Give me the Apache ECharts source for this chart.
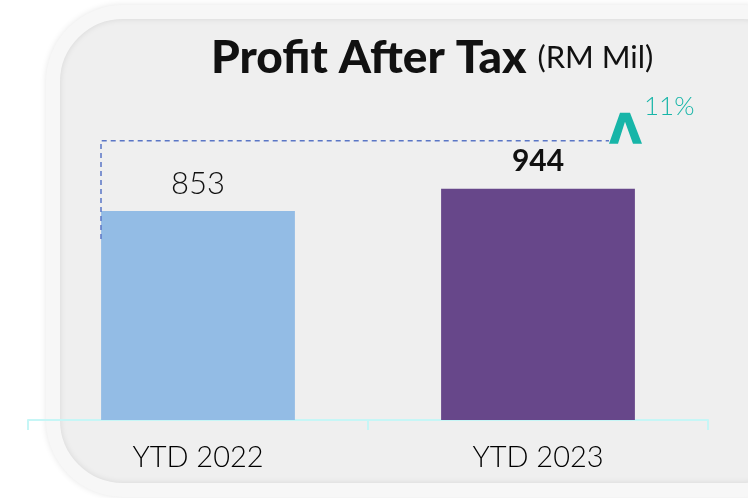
<!DOCTYPE html>
<html>
<head>
<meta charset="utf-8">
<script src="https://cdn.jsdelivr.net/npm/echarts@6/dist/echarts.min.js"></script>
<style>
  html, body { margin: 0; padding: 0; background: #ffffff; }
  #main { width: 748px; height: 498px; }
</style>
</head>
<body>
<div id="main"></div>
<script>
// data
var categories = ["YTD 2022", "YTD 2023"];
var profitValues = [853, 944];
var barColors = ["#93bce5", "#67478a"];
var growthLabel = "11%";

var myChart = echarts.init(document.getElementById("main"));

var barData = profitValues.map(function (v, i) {
  return {
    value: v,
    itemStyle: { color: barColors[i] },
    label: {
      fontWeight: i === 1 ? "bold" : 300,
      fontSize: i === 1 ? 30 : 31
    }
  };
});

var option = {
  backgroundColor: "#ffffff",
  animation: false,
  title: {
    text: "Profit After Tax {s|(RM Mil)}",
    left: 206,
    top: 30,
    textStyle: {
      fontFamily: "Lato",
      fontSize: 46,
      fontWeight: 900,
      color: "#111111",
      rich: {
        s: { fontFamily: "Lato", fontSize: 31, fontWeight: "normal", color: "#111111" }
      }
    }
  },
  grid: { left: 28, right: 40, top: 77, bottom: 78 },
  xAxis: {
    type: "category",
    data: categories,
    axisLine: { lineStyle: { color: "#c6f6f6", width: 2 } },
    axisTick: { show: true, length: 10, lineStyle: { color: "#c6f6f6", width: 2 } },
    axisLabel: { fontFamily: "Lato", fontSize: 29, fontWeight: 300, color: "#000000", margin: 23 }
  },
  yAxis: {
    type: "value",
    min: 0,
    max: 1400,
    show: false,
    splitLine: { show: false }
  },
  series: [
    {
      type: "bar",
      data: barData,
      barWidth: "57%",
      label: {
        show: true,
        position: "top",
        distance: 12,
        fontFamily: "Lato",
        color: "#111111"
      }
    }
  ]
};

myChart.setOption(option);

// decoration: rounded panel behind, dashed growth connector, arrow and % text
var p0 = myChart.convertToPixel({ seriesIndex: 0 }, [0, profitValues[0]]);
var p1 = myChart.convertToPixel({ seriesIndex: 0 }, [1, profitValues[1]]);
var barHalf = 97;
var lineY = p1[1] - 48;
var lineX0 = p0[0] - barHalf;
var arrowX = p1[0] + barHalf - 26;

myChart.setOption({
  graphic: [
    {
      type: "rect",
      z: -10,
      shape: { x: 53, y: 12, width: 760, height: 478, r: 70 },
      style: {
        fill: "#efefef",
        stroke: "#f7f7f7",
        lineWidth: 14,
        shadowBlur: 6,
        shadowColor: "rgba(0,0,0,0.10)"
      }
    },
    {
      type: "polyline",
      z: 10,
      shape: { points: [[lineX0, p0[1] + 28], [lineX0, lineY], [arrowX, lineY]] },
      style: { stroke: "#5a76c6", lineWidth: 1.5, lineDash: [5, 4], fill: null }
    },
    {
      type: "polygon",
      z: 10,
      shape: {
        points: [
          [arrowX, lineY + 3], [arrowX + 11, lineY - 28], [arrowX + 21, lineY - 28],
          [arrowX + 33, lineY + 3], [arrowX + 24, lineY + 3], [arrowX + 16, lineY - 19],
          [arrowX + 9, lineY + 3]
        ]
      },
      style: { fill: "#17b5a8" }
    },
    {
      type: "text",
      z: 10,
      x: arrowX + 35,
      y: lineY - 47,
      style: {
        text: growthLabel,
        fontFamily: "Lato",
        fontSize: 26,
        fontWeight: 300,
        fill: "#17b5a8"
      }
    }
  ]
});
</script>
</body>
</html>
